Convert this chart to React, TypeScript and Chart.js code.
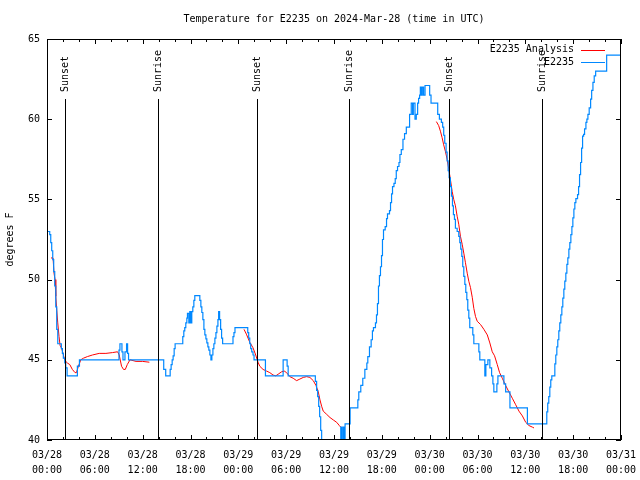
import React, { useEffect, useRef } from "react";
import { Chart, registerables } from "chart.js";

Chart.register(...registerables);

const TITLE = "Temperature for E2235 on 2024-Mar-28 (time in UTC)";
const Y_TITLE = "degrees F";
const X_TICK_DATES = ["03/28", "03/28", "03/28", "03/28", "03/29", "03/29", "03/29", "03/29", "03/30", "03/30", "03/30", "03/30", "03/31"];
const X_TICK_TIMES = ["00:00", "06:00", "12:00", "18:00", "00:00", "06:00", "12:00", "18:00", "00:00", "06:00", "12:00", "18:00", "00:00"];
const Y_TICKS = [40, 45, 50, 55, 60, 65];

const EVENT_HOURS = [2.3, 13.89, 26.35, 37.93, 50.4, 62.15];
const EVENT_LABELS = ["Sunset", "Sunrise", "Sunset", "Sunrise", "Sunset", "Sunrise"];

const SERIES_LABELS = ["E2235 Analysis", "E2235"];
const SERIES_COLORS = ["#ff0000", "#0088ff"];

// Observed temperature (hours since 03/28 00:00 UTC, degrees F)
const OBS_HOURS = [
  0, 0.34, 0.47, 0.59, 0.72, 0.84, 0.97, 1.1, 1.22, 1.35, 1.8, 1.93, 2.05, 2.23, 2.35, 2.52, 3.81, 4.07,
  9.03, 9.15, 9.4, 9.53, 9.78, 9.98, 10.11, 10.23, 14.64, 14.89, 15.45, 15.57, 15.7, 15.82, 15.95, 16.07,
  17.03, 17.16, 17.28, 17.41, 17.54, 17.62, 17.79, 17.91, 18.04, 18.16, 18.29, 18.42, 18.54, 19.17, 19.3,
  19.42, 19.55, 19.68, 19.8, 19.93, 20.05, 20.18, 20.3, 20.43, 20.56, 20.68, 20.81, 20.93, 21.06, 21.19,
  21.31, 21.44, 21.53, 21.65, 21.78, 21.9, 22.03, 23.33, 23.45, 23.58, 25.18, 25.3, 25.43, 25.55, 25.68,
  25.84, 25.97, 27.4, 29.62, 30.12, 30.25, 33.66, 33.82, 33.95, 34.08, 34.2, 34.33, 34.45, 36.85, 36.97,
  37.13, 37.26, 37.39, 38.02, 38.99, 39.11, 39.36, 39.61, 39.87, 40.12, 40.24, 40.45, 40.66, 40.82, 40.95,
  41.2, 41.33, 41.45, 41.58, 41.7, 41.83, 41.96, 42.08, 42.21, 42.42, 42.59, 42.71, 42.96, 43.09, 43.22,
  43.34, 43.52, 43.68, 43.81, 43.97, 44.15, 44.27, 44.44, 44.65, 44.85, 45.07, 45.48, 45.69, 45.86, 45.95,
  46.16, 46.32, 46.49, 46.61, 46.74, 46.83, 46.95, 47.08, 47.24, 47.42, 48.0, 48.17, 49.01, 49.22, 49.47,
  49.63, 49.76, 49.89, 50.06, 50.19, 50.32, 50.44, 50.6, 50.73, 50.86, 50.98, 51.11, 51.23, 51.45, 51.65,
  51.78, 51.9, 52.03, 52.15, 52.28, 52.41, 52.53, 52.66, 52.78, 52.91, 53.03, 53.41, 53.54, 54.17, 54.29,
  54.92, 55.05, 55.3, 55.55, 55.77, 55.93, 56.05, 56.43, 56.56, 57.31, 57.53, 58.07, 60.26, 62.69, 62.81,
  62.94, 63.07, 63.19, 63.32, 63.7, 63.82, 63.95, 64.07, 64.2, 64.32, 64.45, 64.58, 64.7, 64.83, 64.95,
  65.08, 65.21, 65.33, 65.46, 65.58, 65.71, 65.84, 65.96, 66.09, 66.21, 66.34, 66.55, 66.68, 66.8, 66.93,
  67.06, 67.18, 67.31, 67.43, 67.6, 67.72, 67.85, 68.01, 68.19, 68.32, 68.48, 68.64, 68.82, 70.2, 72.0,
];
const OBS_TEMPS = [
  53.0, 52.8, 52.3, 51.8, 51.25, 50.5, 49.6, 48.3, 46.9, 46.0, 45.7, 45.4, 45.1, 44.8, 44.5, 44.0, 44.6, 45.0,
  45.6, 46.0, 45.5, 45.0, 45.5, 46.0, 45.4, 45.0, 44.4, 44.0, 44.4, 44.7, 45.0, 45.25, 45.7, 46.0,
  46.45, 46.8, 47.0, 47.3, 47.6, 47.9, 47.3, 48.0, 47.3, 48.0, 48.3, 48.7, 49.0, 48.7, 48.3,
  47.95, 47.5, 46.9, 46.55, 46.3, 46.05, 45.8, 45.6, 45.3, 45.0, 45.3, 45.7, 46.0, 46.35, 46.7,
  47.1, 47.5, 48.0, 47.5, 46.9, 46.35, 46.0, 46.45, 46.7, 47.0, 46.7, 46.35, 46.0, 45.7, 45.5,
  45.3, 45.0, 44.0, 45.0, 44.6, 44.0, 43.65, 43.1, 42.7, 42.1, 41.45, 40.6, 39.5, 40.8, 39.5,
  40.8, 39.5, 41.0, 42.0, 42.5, 43.0, 43.4, 43.85, 44.4, 44.8, 45.2, 45.8, 46.25, 46.8, 47.0,
  47.3, 47.8, 48.5, 49.6, 50.25, 50.8, 51.5, 52.5, 53.1, 53.3, 53.8, 54.1, 54.3, 54.8, 55.35,
  55.8, 56.0, 56.3, 56.8, 57.05, 57.3, 57.8, 58.1, 58.75, 59.1, 59.5, 60.3, 61.0, 60.3, 61.0,
  60.0, 60.3, 61.0, 61.3, 61.5, 62.0, 61.5, 62.0, 61.5, 62.1, 61.5, 61.0, 60.3, 60.0, 59.8,
  59.5, 59.0, 58.5, 57.95, 57.4, 56.8, 56.35, 55.8, 55.2, 54.6, 54.05, 53.75, 53.2, 53.0, 52.7,
  52.3, 51.9, 51.45, 50.8, 50.2, 49.7, 49.2, 48.75, 48.1, 47.6, 47.0, 46.55, 46.0, 45.5, 45.0,
  44.0, 44.7, 45.0, 44.5, 44.0, 43.5, 43.0, 43.5, 44.0, 43.5, 43.0, 42.0, 41.0, 41.75, 42.3,
  42.7, 43.3, 43.75, 44.0, 44.75, 45.3, 45.8, 46.25, 46.8, 47.3, 47.8, 48.3, 48.85, 49.4, 49.9,
  50.4, 50.95, 51.35, 51.9, 52.3, 52.8, 53.3, 53.85, 54.4, 54.8, 55.05, 55.3, 55.8, 56.55, 57.3,
  58.2, 58.95, 59.05, 59.4, 59.8, 60.0, 60.3, 60.7, 61.25, 61.8, 62.3, 62.7, 63.0, 64.0, 64.0,
];

// Analysis (null = gap)
const ANA_HOURS = [
  0.5, 0.76, 0.88, 1.01, 1.1, 1.22, 1.35, 1.51, 1.64, 1.85, 2.01, 2.18, 2.35, 2.56, 2.86, 3.18, 3.52, 3.69,
  3.94, 4.24, 4.57, 5.07, 5.7, 6.55, 7.39, 8.22, 8.85, 9.06, 9.35, 9.6, 9.82, 10.07, 10.41, 11.17, 12.0,
  12.84, 18.0,
  24.71, 25.01, 25.26, 25.43, 25.84, 26.18, 26.47, 26.69, 27.1, 27.53, 27.95, 28.36, 28.7, 28.99, 29.42,
  29.75, 30.05, 30.46, 30.88, 31.31, 31.72, 32.14, 32.57, 32.98, 33.4, 33.74, 34.03, 34.24, 34.45, 34.65,
  35.08, 35.5, 35.91, 36.34, 36.67, 36.85, 42.0,
  48.84, 49.13, 49.35, 49.56, 49.76, 49.97, 50.19, 50.39, 50.6, 50.82, 51.02, 51.23, 51.45, 51.65, 51.86,
  52.08, 52.28, 52.49, 52.71, 52.91, 53.12, 53.34, 53.54, 53.75, 53.97, 54.38, 54.8, 55.23, 55.55, 55.85,
  56.14, 56.48, 56.77, 57.11, 57.53, 57.94, 58.37, 58.79, 59.2, 59.63, 60.05, 60.46, 60.89, 61.09,
];
const ANA_TEMPS: (number | null)[] = [
  51.35, 51.35, 50.4, 50.0, 48.96, 48.1, 47.3, 46.45, 45.9, 45.7, 45.4, 45.05, 44.9, 44.8, 44.7, 44.4, 44.2, 44.2,
  44.6, 45.0, 45.1, 45.2, 45.3, 45.4, 45.4, 45.45, 45.5, 45.3, 44.6, 44.4, 44.4, 44.7, 45.0, 44.9, 44.9,
  44.85, null,
  46.9, 46.6, 46.3, 46.1, 45.75, 45.3, 44.85, 44.6, 44.4, 44.3, 44.2, 44.05, 44.0, 44.1, 44.25,
  44.3, 44.2, 43.95, 43.85, 43.7, 43.8, 43.9, 43.95, 43.9, 43.7, 43.4, 43.0, 42.5, 42.1, 41.8,
  41.6, 41.4, 41.25, 41.1, 40.9, 40.8, null,
  59.85, 59.6, 59.25, 58.85, 58.4, 58.0, 57.5, 56.9, 56.25, 55.5, 55.0, 54.6, 53.95, 53.45, 52.7,
  52.2, 51.65, 51.05, 50.4, 49.9, 49.5, 48.9, 48.2, 47.7, 47.4, 47.2, 46.9, 46.55, 46.05, 45.5,
  45.25, 44.7, 44.2, 43.85, 43.4, 43.0, 42.6, 42.2, 41.8, 41.5, 41.1, 40.9, 40.8, 40.75,
];

const FAMILY = '"DejaVu Sans Mono", monospace';
const FONT = `10px ${FAMILY}`;
const X_MINOR_STEP = 2;

const decor = {
  id: "gnuplotDecor",
  afterDatasetsDraw(chart: any) {
    const { ctx, chartArea: a, scales } = chart;
    const xs = scales.x;
    const ys = scales.y;
    ctx.save();
    ctx.strokeStyle = "#000";
    ctx.lineWidth = 1;
    EVENT_HOURS.forEach((h) => {
      const px = Math.round(xs.getPixelForValue(h)) + 0.5;
      ctx.beginPath();
      ctx.moveTo(px, a.top + 60);
      ctx.lineTo(px, a.bottom);
      ctx.stroke();
    });
    ctx.strokeRect(a.left + 0.5, a.top + 0.5, a.right - a.left - 1, a.bottom - a.top - 1);
    for (let h = xs.min; h <= xs.max; h += X_MINOR_STEP) {
      const px = Math.round(xs.getPixelForValue(h)) + 0.5;
      const len = h % 6 === 0 ? 5 : 3;
      ctx.beginPath();
      ctx.moveTo(px, a.bottom);
      ctx.lineTo(px, a.bottom - len);
      ctx.moveTo(px, a.top);
      ctx.lineTo(px, a.top + len);
      ctx.stroke();
    }
    Y_TICKS.forEach((v) => {
      const py = Math.round(ys.getPixelForValue(v)) + 0.5;
      ctx.beginPath();
      ctx.moveTo(a.left, py);
      ctx.lineTo(a.left + 5, py);
      ctx.moveTo(a.right, py);
      ctx.lineTo(a.right - 5, py);
      ctx.stroke();
    });
    ctx.restore();
  },
  afterDraw(chart: any) {
    const { ctx, chartArea: a, scales } = chart;
    const xs = scales.x;
    ctx.save();
    ctx.fillStyle = "#000";
    ctx.font = FONT;
    ctx.textAlign = "center";
    ctx.textBaseline = "middle";
    ctx.fillText(TITLE, (a.left + a.right) / 2, 19);
    ctx.save();
    ctx.translate(10, (a.top + a.bottom) / 2);
    ctx.rotate(-Math.PI / 2);
    ctx.fillText(Y_TITLE, 0, 0);
    ctx.restore();
    EVENT_HOURS.forEach((h, i) => {
      const px = Math.round(xs.getPixelForValue(h)) + 0.5;
      ctx.save();
      ctx.translate(px, a.top + 53);
      ctx.rotate(-Math.PI / 2);
      ctx.textAlign = "left";
      ctx.textBaseline = "middle";
      ctx.fillText(EVENT_LABELS[i], 0, 0);
      ctx.restore();
    });
    const rows = [a.top + 10.5, a.top + 23];
    SERIES_LABELS.forEach((lab, i) => {
      const y = rows[i];
      ctx.textAlign = "right";
      ctx.textBaseline = "middle";
      ctx.fillStyle = "#000";
      ctx.fillText(lab, a.right - 47, y);
      ctx.strokeStyle = SERIES_COLORS[i];
      ctx.lineWidth = 1;
      ctx.beginPath();
      ctx.moveTo(a.right - 40, Math.round(y) + 0.5);
      ctx.lineTo(a.right - 16, Math.round(y) + 0.5);
      ctx.stroke();
    });
    ctx.restore();
  },
};

export default function App() {
  const ref = useRef<HTMLCanvasElement>(null);
  useEffect(() => {
    if (!ref.current) return;
    const obs = OBS_HOURS.map((h, i) => ({ x: h, y: OBS_TEMPS[i] }));
    const ana = ANA_HOURS.map((h, i) => ({ x: h, y: ANA_TEMPS[i] }));
    const chart = new Chart(ref.current, {
      type: "line",
      data: {
        datasets: [
          {
            label: SERIES_LABELS[1],
            data: obs as any,
            borderColor: SERIES_COLORS[1],
            borderWidth: 1.2,
            stepped: true,
            pointRadius: 0,
            fill: false,
            clip: 0 as any,
          },
          {
            label: SERIES_LABELS[0],
            data: ana as any,
            borderColor: SERIES_COLORS[0],
            borderWidth: 1,
            pointRadius: 0,
            spanGaps: false,
            fill: false,
            clip: 0 as any,
          },
        ],
      },
      options: {
        responsive: false,
        animation: false,
        devicePixelRatio: 1,
        events: [],
        layout: { padding: { top: 39, right: 19, left: 0, bottom: 0 } },
        plugins: {
          legend: { display: false },
          title: { display: false },
          tooltip: { enabled: false },
        },
        scales: {
          x: {
            type: "linear",
            min: 0,
            max: 72,
            grid: { display: false, drawTicks: false },
            border: { display: false },
            ticks: {
              stepSize: 6,
              autoSkip: false,
              maxRotation: 0,
              minRotation: 0,
              padding: 8,
              color: "#000",
              font: { family: FAMILY, size: 10, lineHeight: 1.5 },
              callback: (v: any) => {
                const i = Math.round(Number(v) / 6);
                return [X_TICK_DATES[i], X_TICK_TIMES[i]];
              },
            },
            afterFit: (s: any) => {
              s.height = 40;
              s.paddingLeft = 0;
              s.paddingRight = 0;
            },
          },
          y: {
            type: "linear",
            min: 40,
            max: 65,
            grid: { display: false, drawTicks: false },
            border: { display: false },
            ticks: {
              stepSize: 5,
              padding: 7,
              color: "#000",
              font: { family: FAMILY, size: 10 },
            },
            afterFit: (s: any) => {
              s.width = 47;
              s.paddingTop = 0;
              s.paddingBottom = 0;
            },
          },
        },
      },
      plugins: [decor],
    });
    return () => chart.destroy();
  }, []);
  return (
    <div style={{ position: "absolute", left: 0, top: 0, width: 640, height: 480, background: "#fff" }}>
      <canvas ref={ref} width={640} height={480} style={{ width: 640, height: 480, display: "block" }} />
    </div>
  );
}
